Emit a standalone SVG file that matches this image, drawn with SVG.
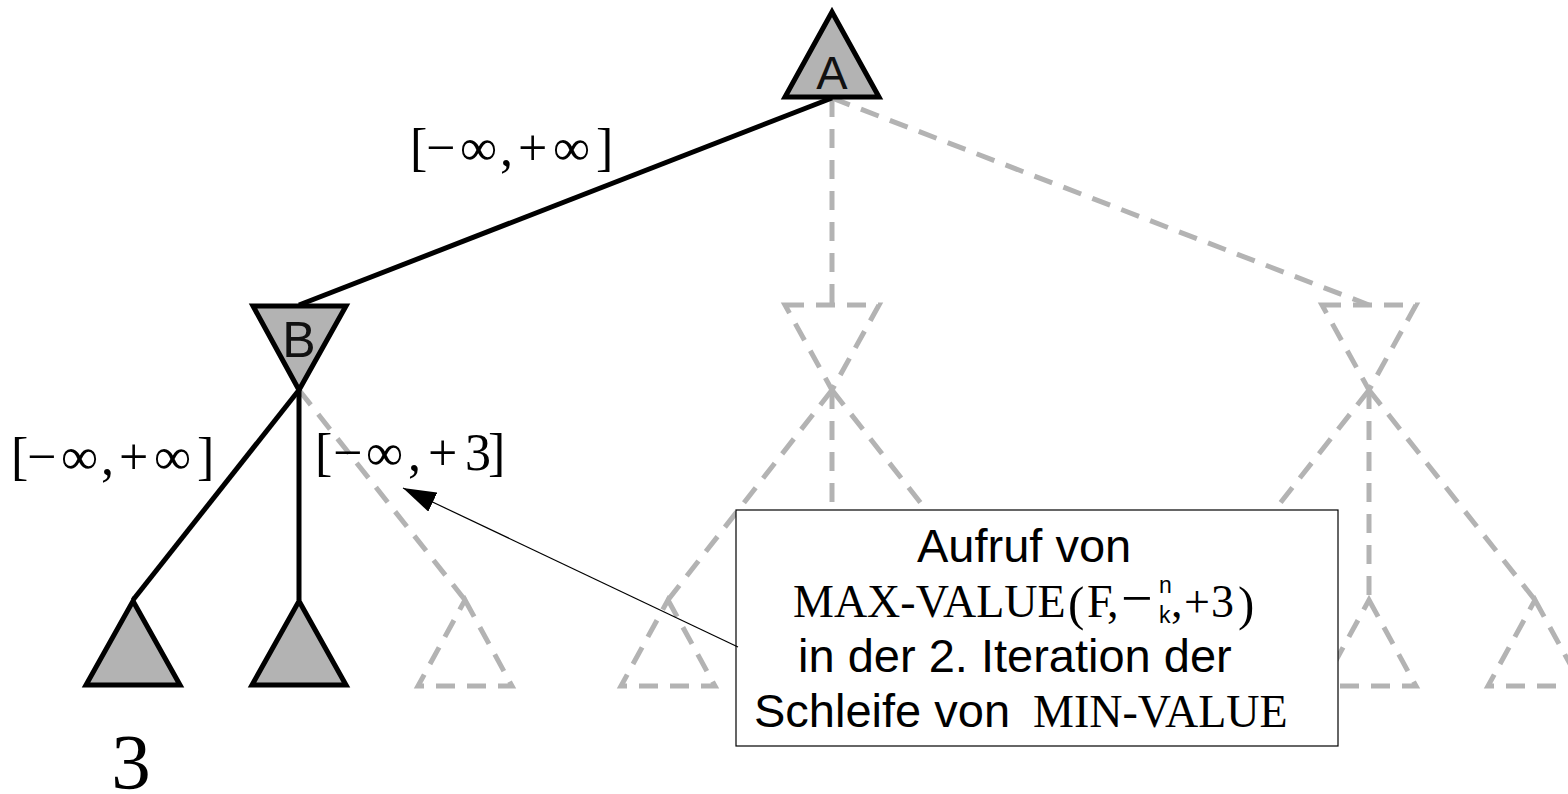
<svg xmlns="http://www.w3.org/2000/svg" width="1568" height="794" viewBox="0 0 1568 794">
<defs>
<style>
.solid{stroke:#000;stroke-width:5;fill:none}
.dash{stroke:#b3b3b3;stroke-width:5;fill:none;stroke-dasharray:19 12}
.tri{fill:#b3b3b3;stroke:#000;stroke-width:5;stroke-linejoin:miter}
.dtri{fill:none;stroke:#b3b3b3;stroke-width:5;stroke-dasharray:19 12}
.lbl{font-family:"Liberation Sans",Arial,sans-serif;fill:#111;text-anchor:middle}
.math{font-family:"Liberation Serif","Times New Roman",serif;fill:#000}
.sans{font-family:"Liberation Sans",Arial,sans-serif;fill:#000}
</style>
<marker id="arr" viewBox="0 0 33 21" refX="33" refY="10.5" markerWidth="33" markerHeight="21" markerUnits="userSpaceOnUse" orient="auto">
<path d="M0,0 L33,10.5 L0,21 Z" fill="#000"/>
</marker>
</defs>
<rect width="1568" height="794" fill="#fff"/>
<g id="connectors">
<line class="dash" x1="832" y1="98" x2="832" y2="305"/>
<line class="dash" x1="832" y1="98" x2="1369" y2="305"/>
<line class="dash" x1="299" y1="390" x2="465" y2="600"/>
<line class="dash" x1="832" y1="390" x2="668" y2="600"/>
<line class="dash" x1="832" y1="390" x2="832" y2="600"/>
<line class="dash" x1="832" y1="390" x2="997" y2="600"/>
<line class="dash" x1="1369" y1="390" x2="1204" y2="600"/>
<line class="dash" x1="1369" y1="390" x2="1369" y2="600"/>
<line class="dash" x1="1369" y1="390" x2="1535" y2="600"/>
<line class="solid" x1="832" y1="98" x2="299" y2="305"/>
<line class="solid" x1="299" y1="390" x2="133" y2="600"/>
<line class="solid" x1="299" y1="390" x2="299" y2="600"/>
</g>
<g id="node-C"><polygon class="dtri" points="785,305 879,305 832,390"/></g>
<g id="node-D"><polygon class="dtri" points="1322,305 1416,305 1369,390"/></g>
<g id="leaf-3"><polygon class="dtri" points="465,600 512,686 418,686"/></g>
<g id="leaf-4"><polygon class="dtri" points="668,600 715,686 621,686"/></g>
<g id="leaf-5"><polygon class="dtri" points="832,600 879,686 785,686"/></g>
<g id="leaf-6"><polygon class="dtri" points="997,600 1044,686 950,686"/></g>
<g id="leaf-7"><polygon class="dtri" points="1204,600 1251,686 1157,686"/></g>
<g id="leaf-8"><polygon class="dtri" points="1369,600 1416,686 1322,686"/></g>
<g id="leaf-9"><polygon class="dtri" points="1535,600 1582,686 1488,686"/></g>
<g id="node-A">
<polygon class="tri" points="832,12 879,97 785,97"/>
<text class="lbl" x="832" y="89" font-size="47">A</text>
</g>
<g id="node-B">
<polygon class="tri" points="253,306 346,306 299,390"/>
<text class="lbl" x="299" y="357" font-size="50">B</text>
</g>
<g id="leaf-1">
<polygon class="tri" points="133,601 180,685 86,685"/>
<text class="math" x="131" y="788" font-size="79" text-anchor="middle">3</text>
</g>
<g id="leaf-2"><polygon class="tri" points="299,601 346,685 252,685"/></g>
<g id="edge-labels" class="math" font-size="52">
<text><tspan x="410" y="165">[</tspan><tspan x="426" y="165">−</tspan><tspan x="460" y="165">∞</tspan><tspan x="500" y="165">,</tspan><tspan x="518" y="165">+</tspan><tspan x="553" y="165">∞</tspan><tspan x="596" y="165">]</tspan></text>
<text><tspan x="11" y="474">[</tspan><tspan x="27" y="474">−</tspan><tspan x="61" y="474">∞</tspan><tspan x="101" y="474">,</tspan><tspan x="119" y="474">+</tspan><tspan x="154" y="474">∞</tspan><tspan x="197" y="474">]</tspan></text>
<text><tspan x="315" y="470">[</tspan><tspan x="333" y="470">−</tspan><tspan x="366" y="470">∞</tspan><tspan x="408" y="470">,</tspan><tspan x="428" y="470">+</tspan><tspan x="465" y="470">3</tspan><tspan x="488" y="470">]</tspan></text>
</g>
<g id="note">
<rect x="736" y="510" width="602" height="236" fill="#fff" stroke="#000" stroke-width="1.2"/>
<text class="sans" x="917" y="562" font-size="47">Aufruf von</text>
<text class="math" font-size="46"><tspan x="793" y="617">MAX-VALUE</tspan><tspan x="1068" y="620" font-size="49">(</tspan><tspan x="1087" y="617">F</tspan><tspan x="1107" y="617">,</tspan><tspan x="1121" y="617" font-size="56">−</tspan><tspan class="sans" x="1159" y="593" font-size="23">n</tspan><tspan class="sans" x="1159" y="623" font-size="23">k</tspan><tspan x="1171" y="617">,</tspan><tspan x="1184" y="617">+</tspan><tspan x="1211" y="617">3</tspan><tspan x="1238" y="620" font-size="49">)</tspan></text>
<text class="sans" x="798" y="672" font-size="47">in der 2. Iteration der</text>
<text class="sans" font-size="47"><tspan x="754" y="727">Schleife von </tspan><tspan class="math" x="1033" y="727" font-size="46">MIN-VALUE</tspan></text>
</g>
<g id="arrow">
<line x1="738" y1="647" x2="403" y2="488" stroke="#000" stroke-width="1.2" marker-end="url(#arr)"/>
</g>
</svg>
